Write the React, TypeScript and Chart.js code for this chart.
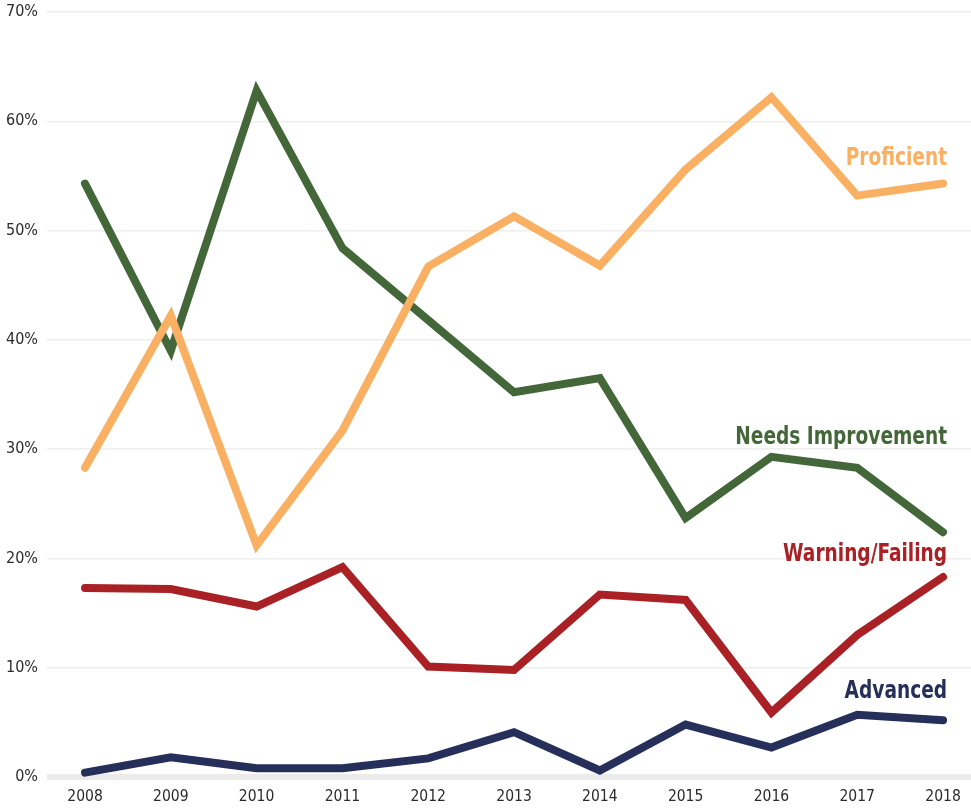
import React, { useEffect, useRef } from "react";
import { Chart, registerables } from "chart.js";

Chart.register(...registerables);

const years = ["2008", "2009", "2010", "2011", "2012", "2013", "2014", "2015", "2016", "2017", "2018"];
const yTickLabels = ["0%", "10%", "20%", "30%", "40%", "50%", "60%", "70%"];

const proficient = [28.3, 42.2, 21.2, 31.7, 46.7, 51.3, 46.8, 55.6, 62.2, 53.2, 54.3];
const needsImprovement = [54.3, 39.0, 62.8, 48.4, 41.8, 35.2, 36.5, 23.7, 29.3, 28.3, 22.4];
const warningFailing = [17.3, 17.2, 15.6, 19.2, 10.1, 9.8, 16.7, 16.2, 5.9, 13.0, 18.3];
const advanced = [0.4, 1.8, 0.8, 0.8, 1.7, 4.1, 0.6, 4.8, 2.7, 5.7, 5.2];

const seriesNames = ["Proficient", "Needs Improvement", "Warning/Failing", "Advanced"];
const seriesColors = ["#F9B063", "#44673A", "#A92025", "#262F5A"];
// vertical anchor (in % units) of each end label
const labelAt = [56.6, 31.0, 20.3, 7.8];

const NARROW = "'Liberation Sans Narrow', 'DejaVu Sans Condensed', 'Arial Narrow', sans-serif";

export default function App() {
  const canvasRef = useRef<HTMLCanvasElement | null>(null);

  useEffect(() => {
    const canvas = canvasRef.current;
    if (!canvas) return;

    const allSeries = [proficient, needsImprovement, warningFailing, advanced];

    const endLabels = {
      id: "endLabels",
      afterDatasetsDraw(chart: any) {
        const ctx = chart.ctx;
        const xs = chart.scales.x;
        const ys = chart.scales.y;
        seriesNames.forEach((name, i) => {
          ctx.save();
          ctx.font = `bold 24px ${NARROW}`;
          ctx.textAlign = "right";
          ctx.textBaseline = "middle";
          ctx.fillStyle = seriesColors[i];
          const x = xs.getPixelForValue(Number(years[years.length - 1])) + 4;
          const y = ys.getPixelForValue(labelAt[i]);
          ctx.translate(x, y);
          ctx.scale(0.86, 1);
          ctx.fillText(name, 0, 0);
          ctx.restore();
        });
      },
    };

    const chart = new Chart(canvas, {
      type: "line",
      data: {
        datasets: allSeries.map((vals, i) => ({
          label: seriesNames[i],
          data: vals.map((v, j) => ({ x: Number(years[j]), y: v })),
          borderColor: seriesColors[i],
          backgroundColor: seriesColors[i],
          borderWidth: 8,
          borderCapStyle: "round",
          borderJoinStyle: "miter",
          pointRadius: 0,
          pointHoverRadius: 0,
          tension: 0,
          fill: false,
          clip: false,
        })),
      },
      options: {
        animation: false,
        responsive: false,
        maintainAspectRatio: false,
        layout: { padding: { top: 12, left: 0, right: 0, bottom: 0 } },
        plugins: {
          legend: { display: false },
          tooltip: { enabled: false },
          title: { display: false },
        },
        scales: {
          x: {
            type: "linear",
            min: 2007.557,
            max: 2018.326,
            afterBuildTicks: (scale: any) => {
              scale.ticks = years.map((y) => ({ value: Number(y) }));
            },
            afterFit: (scale: any) => {
              scale.height = 32;
              scale.paddingLeft = 0;
              scale.paddingRight = 0;
            },
            grid: { display: false, drawTicks: false },
            border: { display: false },
            ticks: {
              padding: 11,
              color: "#2b2b2b",
              font: { family: NARROW, size: 15.5 },
              maxRotation: 0,
              autoSkip: false,
              callback: (value: any) => {
                const idx = years.indexOf(String(value));
                return idx >= 0 ? years[idx] : "";
              },
            },
          },
          y: {
            min: 0,
            max: 70,
            afterBuildTicks: (scale: any) => {
              scale.ticks = yTickLabels.map((_, i) => ({ value: i * 10 }));
            },
            afterFit: (scale: any) => {
              scale.width = 47;
              scale.paddingTop = 0;
              scale.paddingBottom = 0;
            },
            grid: {
              drawTicks: false,
              color: (c: any) => (c.tick && c.tick.value === 0 ? "#EBEBEB" : "#EEEEEE"),
              lineWidth: (c: any) => (c.tick && c.tick.value === 0 ? 6 : 1.5),
            },
            border: { display: false },
            ticks: {
              padding: 9,
              color: "#2b2b2b",
              font: { family: NARROW, size: 16 },
              callback: (value: any) => yTickLabels[Math.round(Number(value) / 10)] ?? "",
            },
          },
        },
      },
      plugins: [endLabels],
    } as any);

    return () => chart.destroy();
  }, []);

  return (
    <div style={{ position: "absolute", left: 0, top: 0, width: 971, height: 809, background: "#ffffff" }}>
      <canvas ref={canvasRef} width={971} height={809} style={{ display: "block", width: 971, height: 809 }} />
    </div>
  );
}
